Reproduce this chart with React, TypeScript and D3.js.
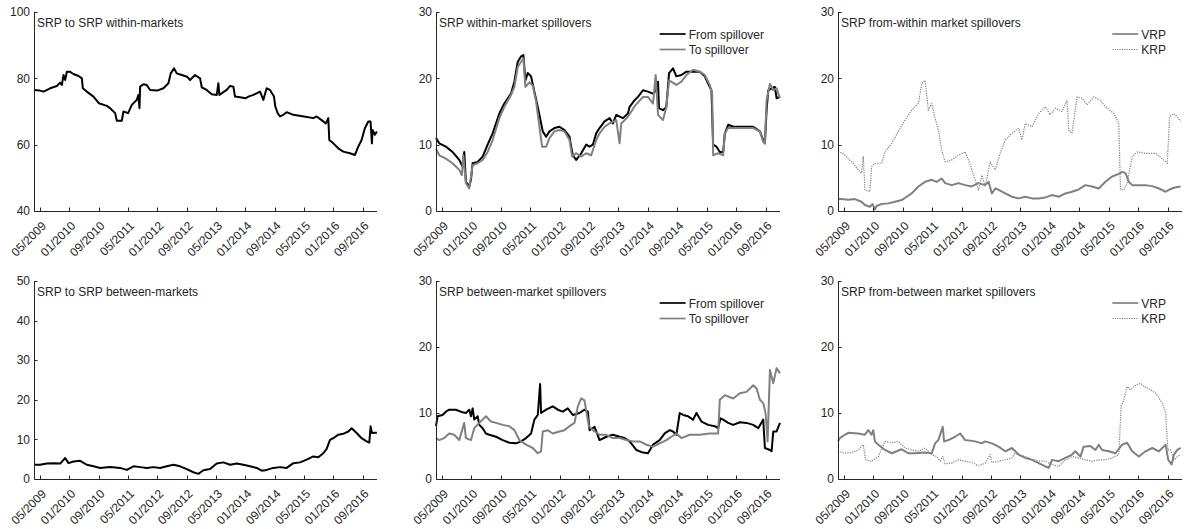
import React from "react";
import * as d3 from "d3";

type Pt = [number, number];

// x values are decimal years
const xDomain: [number, number] = [2009.2, 2016.995];
const tickYears = [2009 + 4 / 12, 2010, 2010 + 8 / 12, 2011 + 4 / 12, 2012, 2012 + 8 / 12, 2013 + 4 / 12, 2014, 2014 + 8 / 12, 2015 + 4 / 12, 2016, 2016 + 8 / 12];
const tickLabels = ["05/2009", "01/2010", "09/2010", "05/2011", "01/2012", "09/2012", "05/2013", "01/2014", "09/2014", "05/2015", "01/2016", "09/2016"];

const titles = [
  "SRP to SRP within-markets",
  "SRP within-market spillovers",
  "SRP from-within market spillovers",
  "SRP to SRP between-markets",
  "SRP between-market spillovers",
  "SRP from-between market spillovers",
];
const spillLabels = ["From spillover", "To spillover"];
const rpLabels = ["VRP", "KRP"];

const srpWithin: Pt[] = [[2009.2,76.5],[2009.333,76.3],[2009.417,76],[2009.568,77],[2009.719,77.7],[2009.795,78.7],[2009.833,78],[2009.871,81],[2009.908,79.5],[2009.947,82],[2010.014,82],[2010.097,81.3],[2010.212,80.7],[2010.287,80],[2010.31,77],[2010.4,76],[2010.552,74.5],[2010.673,72.5],[2010.855,71.7],[2010.93,71],[2011.044,69.5],[2011.082,67.2],[2011.195,67.2],[2011.233,70],[2011.339,69.5],[2011.423,72],[2011.536,73.5],[2011.573,75],[2011.597,71],[2011.612,77.5],[2011.687,78.2],[2011.763,78],[2011.838,76.5],[2011.997,76.3],[2012.142,77],[2012.255,78.5],[2012.307,81.5],[2012.383,83],[2012.444,81.5],[2012.558,81],[2012.678,80.5],[2012.747,79.5],[2012.86,81],[2012.974,80],[2013.012,77.3],[2013.125,76.5],[2013.239,75.2],[2013.353,75],[2013.39,78.5],[2013.413,75],[2013.579,76.5],[2013.655,77.7],[2013.731,77.5],[2013.768,74.5],[2013.883,74.3],[2014.011,74],[2014.072,74.5],[2014.185,75],[2014.337,76],[2014.412,73.5],[2014.487,77],[2014.563,76.5],[2014.654,74.5],[2014.684,71.5],[2014.738,69.5],[2014.791,68.5],[2014.866,69],[2014.942,69.8],[2015.093,69],[2015.335,68.5],[2015.548,68],[2015.623,68.5],[2015.737,67.4],[2015.835,66.4],[2015.888,68],[2015.911,61.4],[2016.002,60.4],[2016.115,58.9],[2016.228,57.9],[2016.38,57.4],[2016.493,56.9],[2016.569,59.4],[2016.645,61.4],[2016.721,65],[2016.797,67],[2016.849,67],[2016.879,60.4],[2016.895,64.4],[2016.948,63],[2016.993,64]];

const withinFrom: Pt[] = [[2009.2,11],[2009.273,10.2],[2009.424,9.7],[2009.575,8.9],[2009.727,7.7],[2009.802,6.7],[2009.84,8.9],[2009.878,4.4],[2009.954,3.7],[2009.992,4.7],[2010.03,7.2],[2010.143,7.4],[2010.257,8.2],[2010.37,10],[2010.484,11.7],[2010.635,14.7],[2010.749,16.2],[2010.9,17.7],[2010.976,19.5],[2011.052,22.5],[2011.127,23.3],[2011.18,23.5],[2011.226,19.7],[2011.279,20.8],[2011.354,20.3],[2011.43,18],[2011.506,15.7],[2011.559,14],[2011.619,12],[2011.695,11.2],[2011.771,12],[2011.884,12.5],[2011.998,12.7],[2012.111,12.2],[2012.225,11.2],[2012.263,9.7],[2012.3,8.4],[2012.376,7.7],[2012.49,8.7],[2012.603,10],[2012.679,9.7],[2012.755,10],[2012.83,11.7],[2012.906,12.5],[2013.02,13.5],[2013.133,14],[2013.209,13.2],[2013.285,14.5],[2013.436,14],[2013.55,14.7],[2013.587,15.7],[2013.701,16.7],[2013.777,17.2],[2013.89,18.2],[2014.004,18],[2014.117,17.7],[2014.193,18.2],[2014.231,19.5],[2014.253,15.5],[2014.344,15.2],[2014.42,15.7],[2014.481,20.8],[2014.571,21.5],[2014.647,20.3],[2014.761,20.5],[2014.874,21],[2015.026,21],[2015.177,21],[2015.291,20.3],[2015.366,19.2],[2015.442,18.2],[2015.48,10],[2015.556,9.7],[2015.631,8.9],[2015.707,8.9],[2015.745,11.7],[2015.821,13],[2015.934,12.7],[2016.161,12.7],[2016.389,12.7],[2016.54,12],[2016.615,10.7],[2016.653,10.2],[2016.691,15.2],[2016.729,18.2],[2016.805,18.5],[2016.88,18.7],[2016.918,17],[2016.994,17.2]];

const withinTo: Pt[] = [[2009.2,9.4],[2009.273,8.4],[2009.424,7.9],[2009.575,7.2],[2009.727,6.2],[2009.787,5.4],[2009.818,8.4],[2009.878,4.2],[2009.954,3.4],[2010.03,6.9],[2010.143,7.2],[2010.257,7.7],[2010.37,8.9],[2010.484,10.7],[2010.635,14],[2010.749,15.7],[2010.9,17.5],[2010.976,18.7],[2011.052,21.7],[2011.127,22.5],[2011.18,23],[2011.226,18.7],[2011.317,19.4],[2011.392,18.9],[2011.468,16.5],[2011.544,12.7],[2011.604,9.7],[2011.695,9.7],[2011.771,11],[2011.884,12],[2011.998,12.2],[2012.111,12],[2012.225,10.7],[2012.285,8.2],[2012.376,8.7],[2012.49,8.2],[2012.603,8.7],[2012.717,8.4],[2012.83,10.7],[2012.906,11.7],[2013.02,12.7],[2013.133,13.2],[2013.285,13.7],[2013.36,10.2],[2013.398,13.2],[2013.55,14.2],[2013.701,15.8],[2013.89,17.2],[2014.004,17.2],[2014.117,16.2],[2014.178,20.5],[2014.231,14.5],[2014.344,13.7],[2014.42,15.7],[2014.481,19.7],[2014.647,19],[2014.761,19.5],[2014.874,20.5],[2015.026,21.3],[2015.177,21],[2015.291,20.5],[2015.404,19],[2015.457,17.7],[2015.48,8.4],[2015.593,8.7],[2015.707,8.4],[2015.745,11.7],[2015.821,12.5],[2015.934,12.5],[2016.161,12.5],[2016.389,12.5],[2016.54,12],[2016.615,10.4],[2016.653,10.2],[2016.691,16.7],[2016.767,19.2],[2016.842,18.2],[2016.918,18.5],[2016.994,17]];

const withinVRP: Pt[] = [[2009.2,1.8],[2009.28,1.8],[2009.431,1.7],[2009.583,1.8],[2009.734,1.4],[2009.81,0.9],[2009.923,0.65],[2009.984,1.05],[2010.037,0.25],[2010.075,0.75],[2010.188,1.05],[2010.34,1.15],[2010.491,1.4],[2010.643,1.65],[2010.756,2.15],[2010.87,2.65],[2011.021,3.7],[2011.173,4.4],[2011.324,4.7],[2011.437,4.4],[2011.551,4.9],[2011.627,4.2],[2011.778,3.9],[2011.93,4.2],[2012.081,3.9],[2012.232,3.7],[2012.384,4.2],[2012.535,3.9],[2012.611,4.4],[2012.687,2.65],[2012.762,3.4],[2012.838,3.2],[2012.99,2.65],[2013.141,2.15],[2013.292,1.9],[2013.444,2.15],[2013.595,1.9],[2013.747,1.9],[2013.898,2.05],[2014.049,2.4],[2014.201,2.15],[2014.352,2.65],[2014.503,2.9],[2014.655,3.25],[2014.806,3.9],[2014.958,3.7],[2015.109,3.4],[2015.26,4.4],[2015.412,5.2],[2015.563,5.6],[2015.639,5.9],[2015.715,5.7],[2015.79,4.4],[2015.866,3.9],[2016.017,3.9],[2016.169,3.9],[2016.32,3.75],[2016.472,3.4],[2016.623,2.9],[2016.699,3.2],[2016.812,3.5],[2016.964,3.7]];

const withinKRP: Pt[] = [[2009.2,8.9],[2009.318,8.7],[2009.431,7.9],[2009.545,7.2],[2009.659,6.2],[2009.734,5.7],[2009.772,8.2],[2009.81,3.2],[2009.923,2.9],[2009.961,6.7],[2010.037,7.2],[2010.188,7.2],[2010.264,8.9],[2010.416,10.2],[2010.567,12],[2010.719,13.7],[2010.87,15.2],[2011.021,16.2],[2011.097,19.2],[2011.173,19.7],[2011.248,15.2],[2011.324,16.2],[2011.4,14],[2011.475,12.2],[2011.551,9.2],[2011.627,7.4],[2011.778,7.7],[2011.93,8.4],[2012.081,8.9],[2012.157,7.7],[2012.232,6.2],[2012.308,4.7],[2012.384,3.2],[2012.46,5.4],[2012.535,3.7],[2012.649,7.4],[2012.762,6.2],[2012.876,8.7],[2012.99,10.7],[2013.141,11.7],[2013.292,12.5],[2013.368,10.7],[2013.444,13.2],[2013.595,12.7],[2013.747,14.7],[2013.898,15.7],[2014.011,14.5],[2014.125,15.5],[2014.276,15],[2014.39,16.7],[2014.428,12.2],[2014.503,11.7],[2014.617,17.2],[2014.731,17],[2014.844,16],[2014.995,17.2],[2015.147,16.7],[2015.26,15.7],[2015.45,14.7],[2015.563,13.2],[2015.601,3.2],[2015.677,3.2],[2015.752,4.2],[2015.866,8.2],[2015.98,8.9],[2016.169,8.7],[2016.396,8.7],[2016.547,7.9],[2016.661,7.2],[2016.714,14.2],[2016.812,14.7],[2016.888,14.2],[2016.964,13.5]];

const srpBetween: Pt[] = [[2009.204,3.6],[2009.333,3.6],[2009.492,3.9],[2009.643,4.0],[2009.795,3.9],[2009.908,5.3],[2009.984,4.0],[2010.098,4.4],[2010.249,4.6],[2010.4,3.6],[2010.552,3.2],[2010.703,2.8],[2010.93,3.0],[2011.157,2.8],[2011.309,2.3],[2011.46,3.2],[2011.612,3.0],[2011.763,2.8],[2011.914,3.0],[2012.066,2.8],[2012.217,3.2],[2012.369,3.6],[2012.52,3.2],[2012.671,2.5],[2012.823,1.7],[2012.936,1.3],[2013.05,2.2],[2013.201,2.5],[2013.353,3.9],[2013.504,4.2],[2013.656,3.6],[2013.807,3.9],[2013.958,3.6],[2014.11,3.2],[2014.261,2.8],[2014.375,2.1],[2014.488,2.3],[2014.64,2.8],[2014.791,3.0],[2014.943,2.8],[2015.094,4.0],[2015.245,4.2],[2015.397,4.9],[2015.548,5.7],[2015.662,5.5],[2015.775,6.5],[2015.851,7.6],[2015.927,9.9],[2016.002,10.3],[2016.116,11.2],[2016.229,11.4],[2016.343,12.0],[2016.419,12.8],[2016.532,11.6],[2016.645,10.3],[2016.759,9.5],[2016.82,9.2],[2016.85,13.3],[2016.88,11.6],[2016.948,11.7],[2016.993,11.7]];

const betweenFrom: Pt[] = [[2009.2,8.0],[2009.235,9.5],[2009.348,9.7],[2009.424,10.2],[2009.5,10.5],[2009.651,10.5],[2009.802,10.1],[2009.878,10.0],[2009.954,10.5],[2009.992,9.5],[2010.03,10.7],[2010.067,9.0],[2010.143,9.5],[2010.181,8.2],[2010.257,7.7],[2010.332,6.9],[2010.408,6.7],[2010.56,6.4],[2010.711,5.9],[2010.862,5.5],[2011.014,5.4],[2011.127,5.7],[2011.241,6.2],[2011.354,6.9],[2011.43,9.0],[2011.506,9.7],[2011.559,14.4],[2011.581,10.0],[2011.695,10.5],[2011.846,11.0],[2011.96,10.5],[2012.073,10.2],[2012.187,10.7],[2012.3,9.7],[2012.452,10.0],[2012.565,10.5],[2012.641,10.2],[2012.679,7.4],[2012.793,7.9],[2012.906,5.9],[2013.057,6.4],[2013.209,6.7],[2013.36,6.4],[2013.474,6.2],[2013.587,5.7],[2013.739,4.4],[2013.89,4.0],[2014.004,3.9],[2014.117,5.2],[2014.269,5.9],[2014.382,6.9],[2014.496,7.4],[2014.571,7.2],[2014.647,6.7],[2014.723,10.0],[2014.799,9.7],[2014.912,9.5],[2015.026,9.0],[2015.102,10.0],[2015.215,8.7],[2015.366,8.2],[2015.518,8.0],[2015.593,7.7],[2015.646,9.2],[2015.707,9.0],[2015.821,8.5],[2015.934,8.2],[2016.086,8.6],[2016.237,8.5],[2016.389,8.2],[2016.502,7.7],[2016.615,9.0],[2016.653,4.7],[2016.767,4.4],[2016.805,4.2],[2016.842,7.2],[2016.918,7.2],[2016.994,8.5]];

const betweenTo: Pt[] = [[2009.2,6.2],[2009.273,5.9],[2009.386,6.2],[2009.5,6.9],[2009.613,6.7],[2009.727,5.9],[2009.84,8.5],[2009.878,6.2],[2009.992,5.9],[2010.067,7.7],[2010.181,8.5],[2010.332,9.5],[2010.446,8.7],[2010.56,8.5],[2010.711,8.2],[2010.862,8.0],[2010.976,7.4],[2011.089,5.9],[2011.241,5.2],[2011.392,4.7],[2011.506,3.9],[2011.581,4.2],[2011.619,7.2],[2011.733,7.4],[2011.846,6.9],[2011.998,7.2],[2012.111,7.4],[2012.225,8.0],[2012.338,8.5],[2012.414,11.0],[2012.49,12.2],[2012.565,11.9],[2012.664,8.0],[2012.755,7.4],[2012.906,6.7],[2013.057,6.7],[2013.209,6.2],[2013.36,6.2],[2013.512,5.9],[2013.663,5.7],[2013.815,5.7],[2013.966,5.2],[2014.117,4.9],[2014.269,5.4],[2014.42,5.9],[2014.534,6.4],[2014.647,6.9],[2014.761,6.2],[2014.95,6.7],[2015.177,6.7],[2015.404,6.9],[2015.593,6.9],[2015.631,12.0],[2015.745,12.7],[2015.934,12.2],[2016.086,13.0],[2016.237,13.2],[2016.389,14.2],[2016.464,13.7],[2016.54,12.0],[2016.615,11.5],[2016.668,10.0],[2016.714,5.7],[2016.767,16.5],[2016.842,14.5],[2016.918,16.8],[2016.994,16.0]];

const betweenVRP: Pt[] = [[2009.2,5.7],[2009.242,6.2],[2009.356,6.7],[2009.431,7.0],[2009.659,6.9],[2009.81,6.7],[2009.886,7.4],[2009.961,6.7],[2009.999,7.4],[2010.037,5.7],[2010.113,5.2],[2010.264,4.4],[2010.416,3.9],[2010.643,4.5],[2010.794,3.9],[2010.945,3.9],[2011.173,4.0],[2011.324,3.9],[2011.4,5.4],[2011.475,5.9],[2011.574,7.9],[2011.604,5.7],[2011.702,5.9],[2011.854,6.4],[2011.967,6.9],[2012.081,5.9],[2012.308,5.7],[2012.46,5.4],[2012.535,5.7],[2012.687,5.4],[2012.838,4.9],[2012.99,4.2],[2013.141,4.7],[2013.292,3.7],[2013.444,3.2],[2013.595,2.9],[2013.747,2.4],[2013.898,1.9],[2013.974,1.7],[2014.049,2.9],[2014.201,2.7],[2014.352,3.2],[2014.503,3.7],[2014.579,4.2],[2014.693,3.4],[2014.768,4.9],[2014.92,5.0],[2015.033,4.4],[2015.109,5.2],[2015.185,4.4],[2015.336,4.2],[2015.488,3.9],[2015.639,5.2],[2015.752,5.5],[2015.866,4.2],[2016.017,3.4],[2016.169,4.2],[2016.32,4.7],[2016.472,4.2],[2016.623,5.2],[2016.684,2.9],[2016.76,2.2],[2016.812,3.7],[2016.888,4.4],[2016.964,4.7]];

const betweenKRP: Pt[] = [[2009.2,4.2],[2009.356,3.9],[2009.507,4.0],[2009.659,4.4],[2009.772,5.2],[2009.825,2.9],[2009.961,2.7],[2010.113,3.4],[2010.264,5.7],[2010.416,5.5],[2010.567,5.7],[2010.719,4.7],[2010.87,4.4],[2011.021,4.2],[2011.173,4.7],[2011.324,3.7],[2011.437,3.4],[2011.513,2.7],[2011.574,3.4],[2011.627,2.3],[2011.778,2.4],[2011.93,2.9],[2012.081,2.7],[2012.232,2.5],[2012.384,2.0],[2012.535,2.4],[2012.649,3.7],[2012.687,2.5],[2012.838,2.7],[2012.99,2.9],[2013.141,3.2],[2013.216,3.9],[2013.292,3.7],[2013.444,3.4],[2013.595,3.0],[2013.747,2.7],[2013.898,2.7],[2014.049,2.2],[2014.201,1.9],[2014.352,2.9],[2014.503,3.4],[2014.655,3.2],[2014.806,2.9],[2014.958,2.7],[2015.109,2.9],[2015.26,2.9],[2015.412,3.2],[2015.563,3.7],[2015.616,11.0],[2015.677,12.0],[2015.752,14.0],[2015.828,13.5],[2015.942,14.2],[2016.055,14.5],[2016.131,14.0],[2016.245,13.7],[2016.396,13.0],[2016.547,11.5],[2016.623,10.0],[2016.676,4.4],[2016.737,4.4],[2016.812,2.9],[2016.888,3.4],[2016.964,3.7]];

const FONT = "'Liberation Sans', Arial, Helvetica, sans-serif";
const TEXT = "#262626";
const BLACK = "#000000";
const GRAY = "#808080";

type Series = { data: Pt[]; color: string; width: number; dash?: string; label?: string };
type Panel = {
  x0: number; x1: number; y0: number; y1: number;
  yDomain: [number, number]; yTicks: number[];
  title: string; series: Series[]; legend: boolean;
};

const cols: [number, number][] = [[34, 377], [436, 780], [838, 1182]];
const rows: [number, number][] = [[12, 211], [281, 479]];

const solidBlack = (d: Pt[], label?: string): Series => ({ data: d, color: BLACK, width: 2, label });
const solidGray = (d: Pt[], label?: string): Series => ({ data: d, color: GRAY, width: 2, label });
const dotGray = (d: Pt[], label?: string): Series => ({ data: d, color: GRAY, width: 1.2, dash: "1.2 1.2", label });

const panels: Panel[] = [
  { x0: cols[0][0], x1: cols[0][1], y0: rows[0][0], y1: rows[0][1], yDomain: [40, 100], yTicks: [40, 60, 80, 100], title: titles[0], series: [solidBlack(srpWithin)], legend: false },
  { x0: cols[1][0], x1: cols[1][1], y0: rows[0][0], y1: rows[0][1], yDomain: [0, 30], yTicks: [0, 10, 20, 30], title: titles[1], series: [solidBlack(withinFrom, spillLabels[0]), solidGray(withinTo, spillLabels[1])], legend: true },
  { x0: cols[2][0], x1: cols[2][1], y0: rows[0][0], y1: rows[0][1], yDomain: [0, 30], yTicks: [0, 10, 20, 30], title: titles[2], series: [solidGray(withinVRP, rpLabels[0]), dotGray(withinKRP, rpLabels[1])], legend: true },
  { x0: cols[0][0], x1: cols[0][1], y0: rows[1][0], y1: rows[1][1], yDomain: [0, 50], yTicks: [0, 10, 20, 30, 40, 50], title: titles[3], series: [solidBlack(srpBetween)], legend: false },
  { x0: cols[1][0], x1: cols[1][1], y0: rows[1][0], y1: rows[1][1], yDomain: [0, 30], yTicks: [0, 10, 20, 30], title: titles[4], series: [solidBlack(betweenFrom, spillLabels[0]), solidGray(betweenTo, spillLabels[1])], legend: true },
  { x0: cols[2][0], x1: cols[2][1], y0: rows[1][0], y1: rows[1][1], yDomain: [0, 30], yTicks: [0, 10, 20, 30], title: titles[5], series: [solidGray(betweenVRP, rpLabels[0]), dotGray(betweenKRP, rpLabels[1])], legend: true },
];

function textWidth(s: string, size: number): number {
  try {
    const c = document.createElement("canvas").getContext("2d");
    if (c) {
      c.font = `${size}px 'Liberation Sans', Arial, sans-serif`;
      return c.measureText(s).width;
    }
  } catch (e) {}
  return s.length * size * 0.55;
}

function PanelView({ p }: { p: Panel }) {
  const x = d3.scaleLinear().domain(xDomain).range([p.x0, p.x1]);
  const y = d3.scaleLinear().domain(p.yDomain).range([p.y1, p.y0]);
  const line = d3.line<Pt>().x((d) => x(d[0])).y((d) => y(d[1]));
  const ax = Math.round(p.x0) + 0.5;
  const ay = Math.round(p.y1) + 0.5;
  const labels = p.series.filter((s) => s.label).map((s) => s.label as string);
  const maxW = labels.length ? Math.max(...labels.map((l) => textWidth(l, 12))) : 0;
  const textX = p.x1 - 16 - maxW;
  return (
    <g>
      {p.series.map((s, i) => (
        <path key={i} d={line(s.data) || ""} fill="none" stroke={s.color} strokeWidth={s.width}
          strokeDasharray={s.dash} strokeLinejoin="round" />
      ))}
      <line x1={ax} x2={ax} y1={p.y0} y2={ay} stroke={TEXT} strokeWidth={1} />
      <line x1={ax} x2={p.x1} y1={ay} y2={ay} stroke={TEXT} strokeWidth={1} />
      {p.yTicks.map((t) => (
        <g key={t}>
          <line x1={ax} x2={ax + 3} y1={Math.round(y(t)) + 0.5} y2={Math.round(y(t)) + 0.5} stroke={TEXT} />
          <text x={p.x0 - 4} y={y(t)} dy="0.35em" textAnchor="end" fontSize={12} fill={TEXT} fontFamily={FONT}>{t}</text>
        </g>
      ))}
      {tickYears.map((t, i) => (
        <g key={i}>
          <line x1={Math.round(x(t)) + 0.5} x2={Math.round(x(t)) + 0.5} y1={ay} y2={ay - 4} stroke={TEXT} />
          <text transform={`translate(${x(t) + 7},${p.y1 + 15.5}) rotate(-45)`} textAnchor="end" fontSize={12}
            fill={TEXT} fontFamily={FONT}>{tickLabels[i]}</text>
        </g>
      ))}
      <text x={p.x0 + 3} y={p.y0 + 15} fontSize={12} fill={TEXT} fontFamily={FONT}>{p.title}</text>
      {p.legend && p.series.map((s, i) => (
        <g key={"lg" + i}>
          <line x1={textX - 29} x2={textX - 3} y1={p.y0 + 22 + i * 15.5} y2={p.y0 + 22 + i * 15.5}
            stroke={s.color} strokeWidth={s.dash ? 1.2 : 1.7} strokeDasharray={s.dash} />
          <text x={textX} y={p.y0 + 26.5 + i * 15.5} fontSize={12} fill={TEXT} fontFamily={FONT}>{s.label}</text>
        </g>
      ))}
    </g>
  );
}

export default function App() {
  return (
    <svg width={1186} height={529} style={{ position: "absolute", left: 0, top: 0, background: "#fff" }}>
      <rect width={1186} height={529} fill="#fff" />
      {panels.map((p, i) => <PanelView key={i} p={p} />)}
    </svg>
  );
}
